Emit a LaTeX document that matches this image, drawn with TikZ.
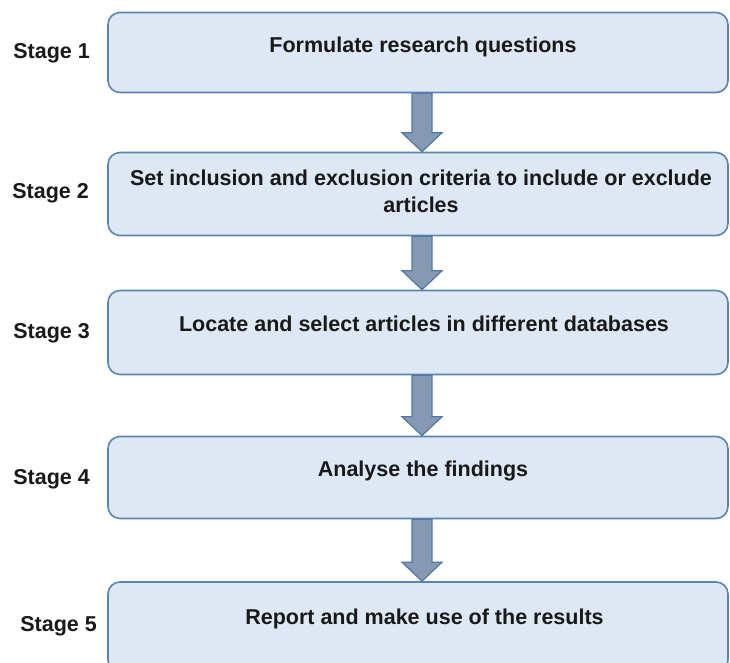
\documentclass[tikz,border=0pt]{standalone}
\usepackage{fontspec}
\setmainfont{Liberation Sans}
\usetikzlibrary{calc}
\definecolor{boxfill}{HTML}{DDE8F4}
\definecolor{boxline}{HTML}{5A85B3}
\definecolor{arrowfill}{HTML}{8599B2}
\definecolor{arrowline}{HTML}{5079A6}
\tikzset{
  stagebox/.style={draw=boxline,fill=boxfill,line width=1.6pt,rounded corners=12pt,minimum width=620pt,inner sep=0pt},
  boxtext/.style={anchor=base,align=center,inner sep=0pt,font=\fontsize{21.5}{27}\selectfont\bfseries,text=black!90},
  stagelabel/.style={anchor=base east,inner sep=0pt,font=\fontsize{21.5}{26}\selectfont\bfseries,text=black!90},
  flowarrow/.style={draw=arrowline,fill=arrowfill,line width=1.2pt,line join=miter}
}
\begin{document}
\begin{tikzpicture}[x=1pt,y=-1pt]
\useasboundingbox (0,0) rectangle (730,662);
\clip (0,0) rectangle (730,662);
% boxes
\node (b1) at (418,52.5) [stagebox,minimum height=80pt] {};
\node (b2) at (418,194) [stagebox,minimum height=83pt] {};
\node (b3) at (418,332.5) [stagebox,minimum height=84pt] {};
\node (b4) at (418,477.5) [stagebox,minimum height=82pt] {};
\node (b5) at (418,627) [stagebox,minimum height=90pt] {};
% texts
\node (t1) at (423,52) [boxtext] {Formulate research questions};
\node (t2) at (421,212.5) [boxtext] {Set inclusion and exclusion criteria to include or exclude\\articles};
\node (t3) at (424,331.5) [boxtext] {Locate and select articles in different databases};
\node (t4) at (423,476.5) [boxtext] {Analyse the findings};
\node (t5) at (424.5,624.5) [boxtext] {Report and make use of the results};
% stage labels
\node (s1) at (90,58) [stagelabel] {Stage 1};
\node (s2) at (89,198) [stagelabel] {Stage 2};
\node (s3) at (90,338) [stagelabel] {Stage 3};
\node (s4) at (90,484) [stagelabel] {Stage 4};
\node (s5) at (97,631) [stagelabel] {Stage 5};
% block arrows
\foreach \a/\b in {b1/b2,b2/b3,b3/b4,b4/b5} {
  \coordinate (top) at ($(\a.south)+(4,0)$);
  \coordinate (tip) at ($(\b.north)+(4,0)$);
  \draw[flowarrow] ($(top)+(-10,0)$) -- ($(tip)+(-10,-19)$) -- ($(tip)+(-20,-19)$)
    -- (tip) -- ($(tip)+(20,-19)$) -- ($(tip)+(10,-19)$) -- ($(top)+(10,0)$) -- cycle;
}
\end{tikzpicture}
\end{document}
